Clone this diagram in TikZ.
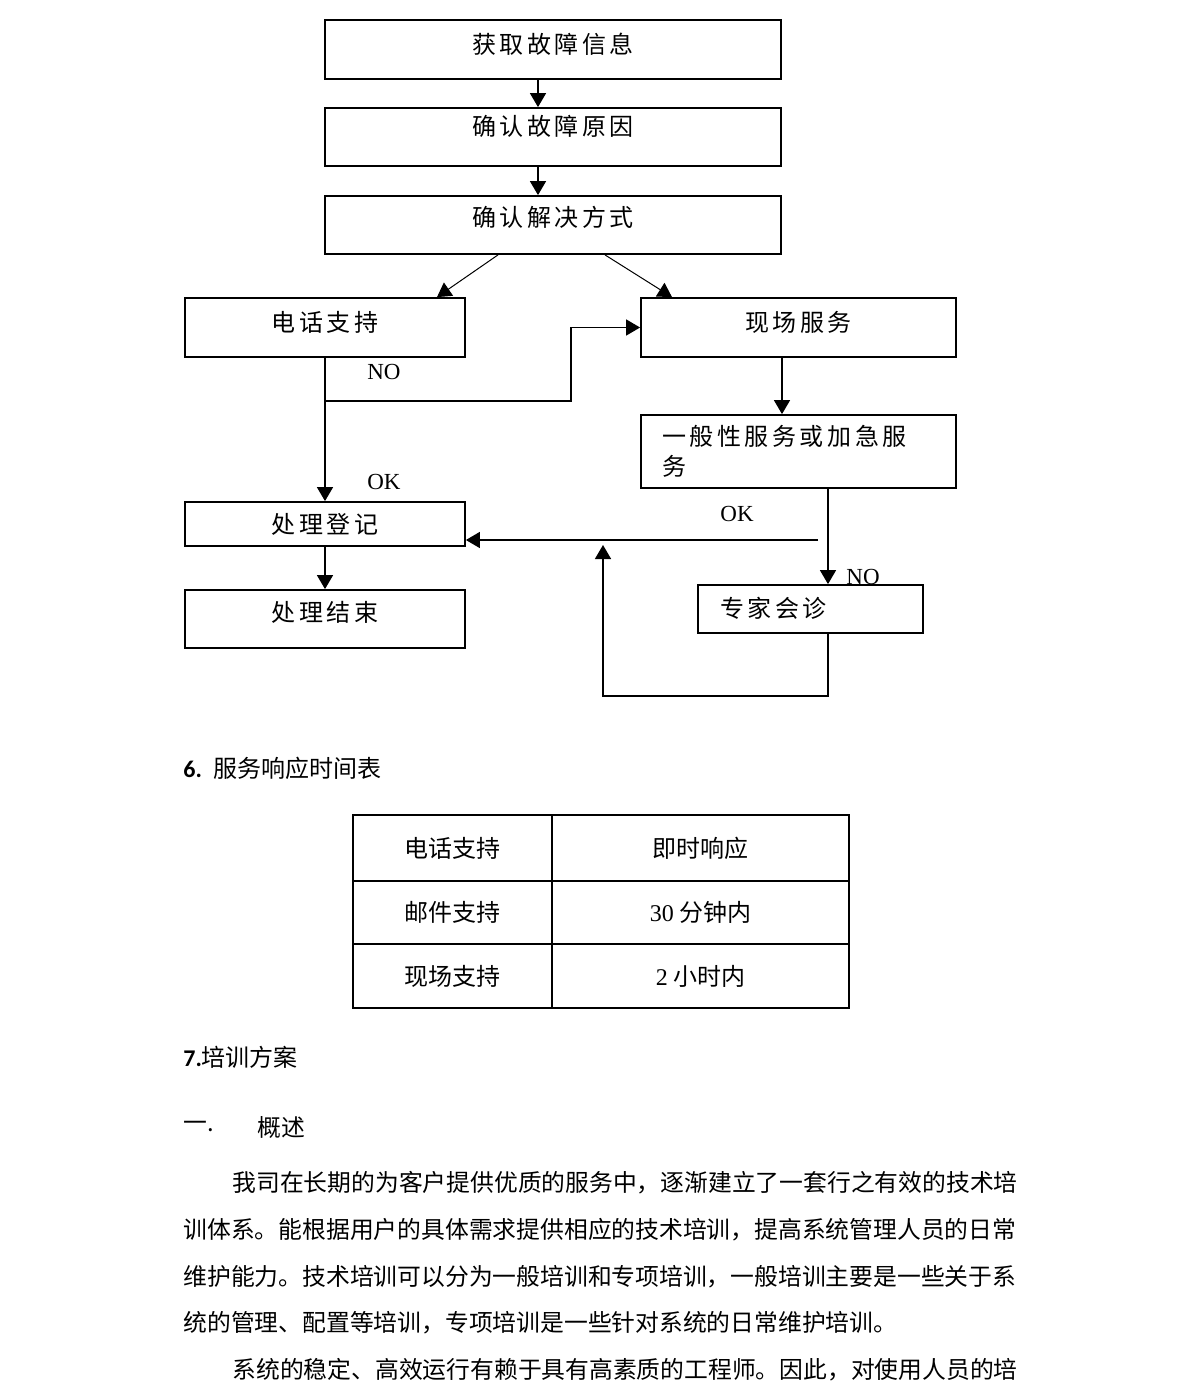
\documentclass[tikz,border=0pt]{standalone}
\usepackage{fontspec}
\setmainfont{Liberation Serif}
\newfontfamily\cjk{Noto Sans CJK SC}
\newfontfamily\flowfont{Noto Sans CJK SC}[LetterSpace=15]
\newfontfamily\headfont{Carlito}
\usetikzlibrary{arrows.meta, positioning}

\begin{document}
\begin{tikzpicture}[x=0.5pt, y=-0.5pt,
    frame/.style={draw, line width=0.9pt, inner sep=0pt},
    box/.style={frame, font=\flowfont\fontsize{12}{15}\selectfont,
                text height=9pt, text depth=#1},
    box/.default=1pt,
    arr/.style={-{Triangle[length=7pt,width=8pt]}, line width=0.75pt},
    yn/.style={inner sep=0pt, font=\fontsize{11.5}{13}\selectfont},
    cell/.style={draw, line width=0.6pt, inner sep=0pt,
                 font=\cjk\fontsize{12}{14}\selectfont},
    para/.style={anchor=west, inner sep=0pt, font=\cjk\fontsize{11.9}{14}\selectfont}
  ]
  \useasboundingbox (0,0) rectangle (1200,1398);

  % Flowchart boxes
  \node[box=5.5pt, minimum width=228pt, minimum height=29.5pt]    (info)     at (553,49.5)    {获取故障信息};
  \node[box=10.5pt, minimum width=228pt, minimum height=29pt]     (cause)    at (553,137)     {确认故障原因};
  \node[box=7.5pt, minimum width=228pt, minimum height=29pt]      (method)   at (553,225)     {确认解决方式};
  \node[box=5.5pt, minimum width=140pt, minimum height=29.5pt]    (phone)    at (325,327.5)   {电话支持};
  \node[box=5.5pt, minimum width=157.5pt, minimum height=29.5pt]  (site)     at (798.5,327.5) {现场服务};
  \node[frame, font=\flowfont\fontsize{12}{15}\selectfont, minimum width=157.5pt,
        minimum height=36.5pt, text width=136.5pt, align=left]     (general)  at (798.5,451.5) {一般性服务或加急服\\务};
  \node[box=0pt, minimum width=140pt, minimum height=22pt]        (register) at (325,524)     {处理登记};
  \node[box=7pt, minimum width=140pt, minimum height=29pt]        (finish)   at (325,619)     {处理结束};
  \node[box=1pt, minimum width=112.5pt, minimum height=24pt,
        text width=90.5pt, align=left]                            (expert)   at (810.5,609)   {专家会诊};

  % Main line
  \draw[arr] ([xshift=-7.5pt]info.south) -- ([xshift=-7.5pt]cause.north);
  \draw[arr] ([xshift=-7.5pt]cause.south) -- ([xshift=-7.5pt]method.north);
  \draw[arr, line width=0.5pt] ([xshift=-27.5pt]method.south) -- ([xshift=56pt]phone.north);
  \draw[arr, line width=0.5pt] ([xshift=26pt]method.south) -- ([xshift=-63.25pt]site.north);

  % Phone support
  \coordinate (fork) at (325,401);
  \coordinate (jog) at (571,401);
  \draw[arr] (phone.south) -- (register.north);
  \draw[arr] (fork) -- (jog) |- (site.west);
  \node[yn] (no1) at (384,372) {NO};
  \node[yn] (ok1) at (384,482) {OK};
  \draw[arr] (register.south) -- (finish.north);

  % On-site service
  \draw[arr] ([xshift=-8.25pt]site.south) -- ([xshift=-8.25pt]general.north);
  \coordinate (gs) at ([xshift=14.75pt]general.south);
  \draw[arr] (gs) -- (gs |- expert.north);
  \node[yn, anchor=west] (no2) at (846,577) {NO};
  \coordinate (okfrom) at (818,540);
  \draw[arr] (okfrom) -- (okfrom -| register.east);
  \node[yn] (ok2) at (737,514) {OK};
  \coordinate (loopend) at (603,545);
  \draw[arr] (gs |- expert.south) -- ++(0,62) -| (loopend);

  % Response time table
  \node[anchor=west, inner sep=0pt, font=\fontsize{12}{14}\selectfont] (sec6) at (183,768)
    {{\headfont\bfseries 6.}\hspace{6pt}{\cjk 服务响应时间表}};
  \node[cell, minimum width=99.5pt, minimum height=33pt]    (t11) at (452.5,848)   {电话支持};
  \node[cell, minimum width=148.5pt, minimum height=33pt]   (t12) at (700.5,848)   {即时响应};
  \node[cell, minimum width=99.5pt, minimum height=31.5pt]  (t21) at (452.5,912.5) {邮件支持};
  \node[cell, minimum width=148.5pt, minimum height=31.5pt] (t22) at (700.5,912.5) {{\rmfamily 30} 分钟内};
  \node[cell, minimum width=99.5pt, minimum height=32pt]    (t31) at (452.5,976)   {现场支持};
  \node[cell, minimum width=148.5pt, minimum height=32pt]   (t32) at (700.5,976)   {{\rmfamily 2} 小时内};

  % Training
  \node[anchor=west, inner sep=0pt, font=\fontsize{12}{14}\selectfont] (sec7) at (183,1057)
    {{\headfont\bfseries 7.}{\cjk 培训方案}};
  \node[para] (secnum) at (183,1127) {一.};
  \node[para] (sectitle) at (257,1127) {概述};
  \node[para] (p1) at (232,1183) {我司在长期的为客户提供优质的服务中，逐渐建立了一套行之有效的技术培};
  \node[para] (p2) at (183,1230) {训体系。能根据用户的具体需求提供相应的技术培训，提高系统管理人员的日常};
  \node[para] (p3) at (183,1277) {维护能力。技术培训可以分为一般培训和专项培训，一般培训主要是一些关于系};
  \node[para] (p4) at (183,1323) {统的管理、配置等培训，专项培训是一些针对系统的日常维护培训。};
  \node[para] (p5) at (232,1370) {系统的稳定、高效运行有赖于具有高素质的工程师。因此，对使用人员的培};
\end{tikzpicture}
\end{document}
